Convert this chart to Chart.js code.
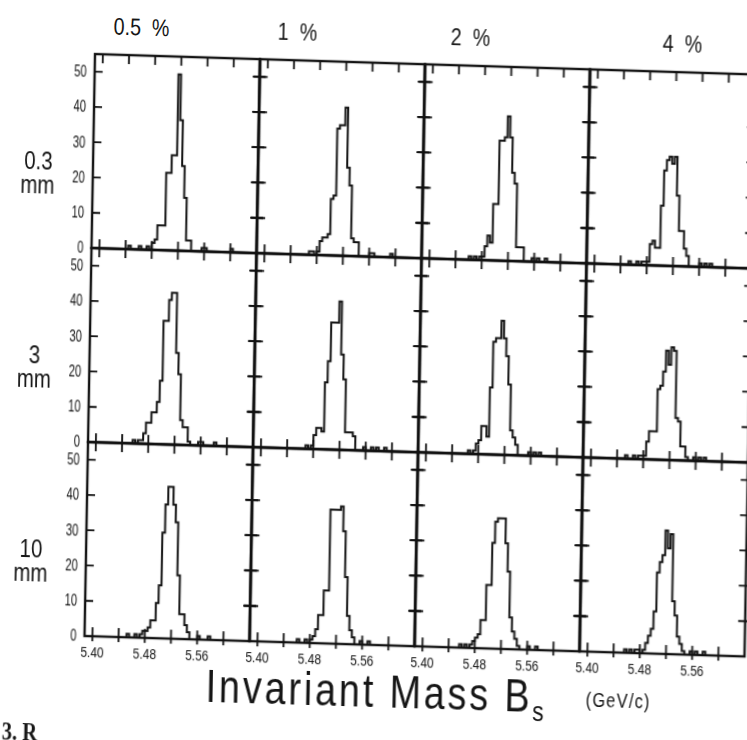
<!DOCTYPE html>
<html>
<head>
<meta charset="utf-8">
<script src="https://cdn.jsdelivr.net/npm/chart.js@4.4.1/dist/chart.umd.min.js"></script>
<style>
  html, body { margin: 0; padding: 0; background: #fff; }
  body { width: 747px; height: 740px; overflow: hidden; position: relative; color: #161616;
         font-family: "Liberation Sans", Arimo, sans-serif; }
  /* the scanned figure is slightly skewed, so the whole sheet is sheared */
  #fig { position: absolute; left: 0; top: 0; width: 780px; height: 760px;
         transform-origin: 95px 54px; transform: matrix(1, 0.031, -0.018, 1, 0, 0); }
  #fig canvas { position: absolute; }
  .lbl { position: absolute; white-space: pre; line-height: 1; }
  .narrow { display: inline-block; transform: scaleX(0.82); transform-origin: 50% 50%; }
  .row-lbl { width: 60px; left: 10px; text-align: center; font-size: 25px; }
  .col-lbl { width: 100px; text-align: center; font-size: 24px; top: 14px; }
</style>
</head>
<body>
<div id="fig"></div>
<script>
// histogram binning of the invariant mass axis (GeV)
const massMin = 5.388;
const massMax = 5.640;
const binWidth = 0.004;
const countMax = 55;

const massTicks = [5.40, 5.44, 5.48, 5.52, 5.56, 5.60];
const massLabels = [5.40, 5.48, 5.56];
const countTicks = [10, 20, 30, 40, 50];
const countLabels = [0, 10, 20, 30, 40, 50];

const columnTitles = ["0.5  %", "1  %", "2  %", "4  %"];
const rowTitles = [["0.3", "mm"], ["3", "mm"], ["10", "mm"]];

// entries per bin, 63 bins from massMin
const counts03mm05 = [0,0,0,0,0,0,0,0,0,0, 0,0,0,0,1,0,0,0,1,0, 0,1,0,2,3,7,7,7,22,22,
  27,27,50,37,24,15,3,3,0,0, 0,0,1,1,0,0,0,0,0,0, 0,0,0,1,0,0,0,0,0,0, 0,0,0];
const counts03mm1 = [0,0,0,0,0,0,0,0,0,0, 0,0,0,0,0,0,0,0,0,0, 1,1,0,1,4,5,5,6,16,17,
  36,37,37,42,25,20,5,4,4,0, 0,0,0,1,1,0,0,0,0,0, 0,1,0,0,0,0,0,0,0,0, 0,0,0];
const counts03mm2 = [0,0,0,0,0,0,0,0,0,0, 0,0,0,0,0,0,0,0,1,0, 1,0,1,1,4,7,5,16,16,34,
  34,35,41,35,25,22,4,4,4,0, 0,0,1,0,1,0,0,1,0,0, 0,0,0,0,0,0,0,0,0,0, 0,0,0];
const counts03mm4 = [0,0,0,0,0,0,0,0,0,0, 0,0,0,0,0,0,1,0,0,1, 0,1,1,1,6,7,5,5,17,27,
  30,31,29,31,20,10,10,5,3,0, 0,0,0,1,0,1,0,1,0,0, 0,0,0,0,0,0,0,0,0,0, 0,0,0];

const counts3mm05 = [0,0,0,0,0,0,0,0,0,0, 0,0,0,0,0,0,0,1,0,1, 1,3,6,6,9,9,12,18,35,35,
  41,43,43,26,20,7,5,5,1,0, 0,0,1,1,0,0,0,0,1,0, 0,0,0,0,0,0,0,0,0,0, 0,0,0];
const counts3mm1 = [0,0,0,0,0,0,0,0,0,0, 0,0,0,0,0,0,0,0,0,0, 1,0,1,4,6,6,5,19,25,36,
  36,36,42,27,20,5,5,5,4,0, 0,0,1,0,0,1,0,1,0,0, 1,0,0,0,0,0,0,0,0,0, 0,0,0];
const counts3mm2 = [0,0,0,0,0,0,0,0,0,0, 0,0,0,0,0,0,0,0,0,1, 0,1,3,4,8,8,5,19,32,33,
  33,38,33,28,20,7,5,3,0,0, 0,0,1,0,1,0,1,0,0,0, 0,0,0,0,0,0,0,0,0,0, 0,0,0];
const counts3mm4 = [0,0,0,0,0,0,0,0,0,0, 0,0,0,0,0,0,1,0,0,1, 0,1,1,1,5,8,8,8,20,21,
  25,31,27,32,31,12,11,4,4,1, 0,0,1,0,1,0,1,0,0,0, 0,0,0,0,0,0,0,0,0,0, 0,0,0];

const counts10mm05 = [0,0,0,0,0,0,0,0,0,0, 0,0,0,0,0,0,1,0,0,1, 0,1,2,2,3,5,5,10,15,30,
  38,43,43,38,33,18,7,7,4,2, 0,0,0,1,0,0,0,1,0,0, 0,0,0,0,0,0,0,0,0,0, 0,0,0];
const counts10mm1 = [0,0,0,0,0,0,0,0,0,0, 0,0,0,0,0,0,0,0,1,0, 0,1,0,1,2,4,8,8,15,15,
  38,38,38,38,39,32,19,8,4,2, 0,0,1,0,0,1,0,0,0,0, 0,0,0,0,0,0,0,0,0,0, 0,0,0];
const counts10mm2 = [0,0,0,0,0,0,0,0,0,0, 0,0,0,0,0,0,0,1,0,1, 0,1,2,3,4,8,8,18,18,30,
  36,37,37,37,30,22,9,5,3,1, 0,0,0,1,0,0,1,0,0,0, 0,0,0,0,0,0,0,0,0,0, 0,0,0];
const counts10mm4 = [0,0,0,0,0,0,0,0,0,0, 0,0,0,0,0,0,0,1,0,1, 0,1,1,0,1,3,5,7,12,23,
  26,28,35,30,34,15,11,5,3,1, 0,0,1,0,1,0,0,1,0,0, 0,0,0,0,0,0,0,0,0,0, 0,0,0];

const panels = [
  [counts03mm05, counts03mm1, counts03mm2, counts03mm4],
  [counts3mm05, counts3mm1, counts3mm2, counts3mm4],
  [counts10mm05, counts10mm1, counts10mm2, counts10mm4],
];

const INK = "#111";
const FONT = '"Liberation Sans", Arimo, sans-serif';
const GX = 95, GY = 54, W = 165, H = 194;

// bin left edges with their counts, plus the closing edge of the last bin
function toSteps(counts) {
  const pts = counts.map((n, i) => ({ x: massMin + i * binWidth, y: n }));
  pts.push({ x: massMin + counts.length * binWidth, y: counts[counts.length - 1] });
  return pts;
}

// frame, crossing tick marks and tick labels of one panel
const framePlugin = {
  id: "frame",
  afterDatasetsDraw(chart, args, opts) {
    const { ctx, chartArea: a, scales: { x, y } } = chart;
    ctx.save();
    ctx.strokeStyle = INK;
    ctx.lineWidth = 2.4;
    ctx.strokeRect(a.left, a.top, a.right - a.left, a.bottom - a.top);

    ctx.lineWidth = 1.8;
    ctx.beginPath();
    countTicks.forEach(v => {
      const py = y.getPixelForValue(v);
      ctx.moveTo(a.left - (opts.col === 0 ? 0 : 6), py);
      ctx.lineTo(a.left + 8, py);
      ctx.moveTo(a.right - 7, py);
      ctx.lineTo(a.right + 6, py);
    });
    massTicks.forEach(v => {
      const px = x.getPixelForValue(v);
      ctx.moveTo(px, a.bottom - 9);
      ctx.lineTo(px, a.bottom + (opts.row === 2 ? 5 : 9));
      if (opts.row === 0) {
        ctx.moveTo(px, a.top);
        ctx.lineTo(px, a.top + 9);
      }
    });
    ctx.stroke();

    ctx.fillStyle = INK;
    if (opts.col === 0) {
      ctx.font = "16px " + FONT;
      ctx.textAlign = "right";
      ctx.textBaseline = "middle";
      countLabels.forEach(v => {
        ctx.save();
        ctx.translate(a.left - 8, y.getPixelForValue(v) + 1);
        ctx.scale(0.7, 1);
        ctx.fillText(String(v), 0, 0);
        ctx.restore();
      });
    }
    if (opts.row === 2) {
      ctx.font = "15px " + FONT;
      ctx.textAlign = "center";
      ctx.textBaseline = "top";
      massLabels.forEach(v => {
        ctx.save();
        ctx.translate(x.getPixelForValue(v), a.bottom + 9);
        ctx.scale(0.8, 1);
        ctx.fillText(v.toFixed(2), 0, 0);
        ctx.restore();
      });
    }
    ctx.restore();
  }
};

const fig = document.getElementById("fig");

panels.forEach((row, r) => row.forEach((counts, c) => {
  const pad = { left: c === 0 ? 40 : 12, right: 12, top: 12, bottom: r === 2 ? 30 : 12 };
  const cv = document.createElement("canvas");
  cv.width = W + pad.left + pad.right;
  cv.height = H + pad.top + pad.bottom;
  cv.style.width = cv.width + "px";
  cv.style.height = cv.height + "px";
  cv.style.left = (GX + c * W - pad.left) + "px";
  cv.style.top = (GY + r * H - pad.top) + "px";
  fig.appendChild(cv);

  new Chart(cv, {
    type: "line",
    data: {
      datasets: [{
        data: toSteps(counts),
        stepped: true,
        borderColor: INK,
        borderWidth: 2,
        pointRadius: 0,
        fill: false,
      }],
    },
    options: {
      responsive: false,
      animation: false,
      devicePixelRatio: 1,
      events: [],
      layout: { padding: pad },
      scales: {
        x: { type: "linear", min: massMin, max: massMax, display: false },
        y: { min: 0, max: countMax, display: false },
      },
      plugins: {
        legend: { display: false },
        tooltip: { enabled: false },
        frame: { row: r, col: c },
      },
    },
    plugins: [framePlugin],
  });
}));

// column headers, row headers and the axis title
function addLabel(cls, style, html, origin) {
  const d = document.createElement("div");
  d.className = "lbl " + cls;
  d.style.cssText = style;
  d.innerHTML = '<span class="narrow"' + (origin ? ' style="transform-origin:' + origin + '"' : "") + ">" + html + "</span>";
  fig.appendChild(d);
}

const colCenters = [141, 297, 470, 682];
columnTitles.forEach((t, i) => addLabel("col-lbl", "left:" + (colCenters[i] - 50) + "px;", t));

rowTitles.forEach((lines, r) => {
  lines.forEach((t, k) => addLabel("row-lbl", "top:" + (GY + r * H + (k === 0 ? 96 : 120)) + "px;", t));
});

addLabel("", "left:217px;top:659px;font-size:46px;letter-spacing:3.5px;",
  'Invariant Mass B<span style="font-size:28px;position:relative;top:9px;">s</span>', "0 50%");
addLabel("", "left:597px;top:674px;font-size:20px;letter-spacing:1.5px;", "(GeV/c)", "0 50%");
addLabel("", "left:14px;top:721px;font-size:25px;font-weight:bold;font-family:'Liberation Serif',serif;", "3. R", "0 50%");
</script>
</body>
</html>
